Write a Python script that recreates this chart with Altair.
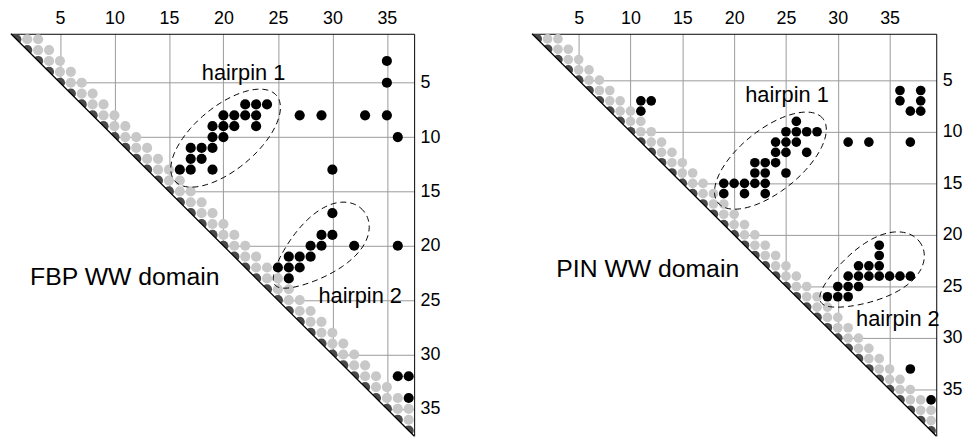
import altair as alt
import numpy as np
import pandas as pd

# ---------------- data ----------------
FBP_N = 37
PIN_N = 39
TICKS = [5, 10, 15, 20, 25, 30, 35]

fbp_contact_i = [35, 35, 22, 23, 24, 20, 21, 22, 23, 27, 29, 33, 35, 19, 20, 21, 23, 19, 20, 36,
                 17, 18, 19, 17, 18, 16, 17, 19, 30, 30, 29, 30, 28, 29, 32, 36, 26, 27, 28,
                 25, 26, 27, 26, 36, 37, 37]
fbp_contact_j = [3, 5, 7, 7, 7, 8, 8, 8, 8, 8, 8, 8, 8, 9, 9, 9, 9, 10, 10, 10,
                 11, 11, 11, 12, 12, 13, 13, 13, 13, 17, 19, 19, 20, 20, 20, 20, 21, 21, 21,
                 22, 22, 22, 23, 32, 32, 34]

pin_contact_i = [36, 38, 11, 12, 36, 38, 11, 37, 38, 26, 25, 26, 27, 28, 24, 25, 26, 31, 33, 37,
                 24, 25, 27, 22, 23, 24, 22, 23, 25, 19, 20, 21, 22, 23, 19, 21, 23,
                 34, 34, 32, 33, 34, 31, 32, 33, 34, 35, 36, 37, 30, 31, 32, 29, 30, 31, 37, 39]
pin_contact_j = [6, 6, 7, 7, 7, 7, 8, 8, 8, 9, 10, 10, 10, 10, 11, 11, 11, 11, 11, 11,
                 12, 12, 12, 13, 13, 13, 14, 14, 14, 15, 15, 15, 15, 15, 16, 16, 16,
                 21, 22, 23, 23, 23, 24, 24, 24, 24, 24, 24, 24, 25, 25, 25, 26, 26, 26, 33, 36]

# ellipse annotations: centre x, centre y, semi-major, semi-minor, angle (deg), egg factor
fbp_ell_cx = [20.2, 28.8]
fbp_ell_cy = [10.1, 20.2]
fbp_ell_a = [6.1, 5.3]
fbp_ell_b = [2.9, 2.6]
fbp_ell_ang = [40.0, 40.0]
fbp_ell_egg = [0.0, 0.3]

pin_ell_cx = [23.5, 33.2]
pin_ell_cy = [12.8, 23.7]
pin_ell_a = [6.5, 5.6]
pin_ell_b = [3.0, 2.7]
pin_ell_ang = [39.0, 30.0]
pin_ell_egg = [0.0, 0.3]

fbp_label_text = ["hairpin 1", "hairpin 2", "FBP WW domain"]
fbp_label_x = [21.85, 32.55, 10.95]
fbp_label_y = [4.1, 24.6, 22.9]
fbp_label_size = [22, 22, 25]

pin_label_text = ["hairpin 1", "hairpin 2", "PIN WW domain"]
pin_label_x = [25.1, 35.8, 11.66]
pin_label_y = [6.4, 28.2, 23.3]
pin_label_size = [22, 22, 25]

FONT = "Liberation Sans"
GRAY = "#c8c8c8"
DARK = "#4a4a4a"


def ellipse_df(cx, cy, a, b, ang, egg):
    rows = []
    t = np.linspace(0, 2 * np.pi, 121)
    for e in range(len(cx)):
        th = np.deg2rad(ang[e])
        u = a[e] * np.cos(t)
        v = b[e] * (1 + egg[e] * np.cos(t)) * np.sin(t)
        xs = cx[e] + u * np.cos(th) - v * np.sin(th)
        ys = cy[e] - (u * np.sin(th) + v * np.cos(th))
        for k in range(len(t)):
            rows.append({"id": e, "k": k, "x": xs[k], "y": ys[k]})
    return pd.DataFrame(rows)


def panel(n, ci, cj, ell, lab_text, lab_x, lab_y, lab_size, w, h, dot):
    dom = [0.5, n + 0.5]
    xs = alt.Scale(domain=dom, nice=False, zero=False)
    ys = alt.Scale(domain=dom, nice=False, zero=False, reverse=True)
    xa = alt.Axis(orient="top", values=TICKS, grid=True, gridColor="#9a9a9a", gridWidth=1,
                  ticks=False, domain=True, domainColor="#000", domainWidth=1,
                  labelFont=FONT, labelFontSize=18, labelPadding=6, labelColor="#000", title=None)
    ya = alt.Axis(orient="right", values=TICKS, grid=True, gridColor="#9a9a9a", gridWidth=1,
                  ticks=False, domain=True, domainColor="#000", domainWidth=1,
                  labelFont=FONT, labelFontSize=18, labelPadding=6, labelColor="#000", title=None)

    res = list(range(1, n + 1))
    gx, gy = [], []
    for r in res:
        for d in (1, 2):
            if r + d <= n:
                gx.append(r + d)
                gy.append(r)
    gray_df = pd.DataFrame({"x": gx, "y": gy})
    diag_df = pd.DataFrame({"x": res, "y": res})
    cont_df = pd.DataFrame({"x": ci, "y": cj})
    tri_df = pd.DataFrame({"x": dom, "y": dom, "y2": [n + 1.5, n + 1.5]})
    line_df = pd.DataFrame({"x": dom, "y": dom})
    lab_df = pd.DataFrame({"t": lab_text, "x": lab_x, "y": lab_y, "s": lab_size})

    base_x = alt.X("x:Q", scale=xs, axis=xa)
    base_y = alt.Y("y:Q", scale=ys, axis=ya)

    gray = alt.Chart(gray_df).mark_circle(size=dot, color=GRAY, opacity=1).encode(x=base_x, y=base_y)
    dark = alt.Chart(diag_df).mark_circle(size=dot, color=DARK, opacity=1).encode(x="x:Q", y="y:Q")
    cont = alt.Chart(cont_df).mark_circle(size=dot, color="#000", opacity=1).encode(x="x:Q", y="y:Q")
    tri = alt.Chart(tri_df).mark_area(color="white", opacity=1).encode(x="x:Q", y="y:Q", y2="y2:Q")
    diag = alt.Chart(line_df).mark_line(color="#000", strokeWidth=1.3).encode(x="x:Q", y="y:Q")
    ells = alt.Chart(ell).mark_line(color="#000", strokeWidth=1, strokeDash=[6, 4]).encode(
        x="x:Q", y="y:Q", detail="id:N", order="k:Q")
    labs = alt.Chart(lab_df).mark_text(font=FONT, color="#000", baseline="middle", align="center").encode(
        x="x:Q", y="y:Q", text="t:N", size=alt.Size("s:Q", scale=None, legend=None))
    return alt.layer(gray, dark, cont, tri, diag, ells, labs).properties(width=w, height=h)


left = panel(FBP_N, fbp_contact_i, fbp_contact_j,
             ellipse_df(fbp_ell_cx, fbp_ell_cy, fbp_ell_a, fbp_ell_b, fbp_ell_ang, fbp_ell_egg),
             fbp_label_text, fbp_label_x, fbp_label_y, fbp_label_size, 407, 406, 105)
right = panel(PIN_N, pin_contact_i, pin_contact_j,
              ellipse_df(pin_ell_cx, pin_ell_cy, pin_ell_a, pin_ell_b, pin_ell_ang, pin_ell_egg),
              pin_label_text, pin_label_x, pin_label_y, pin_label_size, 408, 406, 95)

chart = alt.hconcat(left, right, spacing=89).resolve_scale(x="independent", y="independent").properties(
    padding={"left": 8, "top": 8, "right": 0, "bottom": 0}
).configure_view(stroke=None)

chart.save("out.html", embed_options={"renderer": "svg", "actions": False})
